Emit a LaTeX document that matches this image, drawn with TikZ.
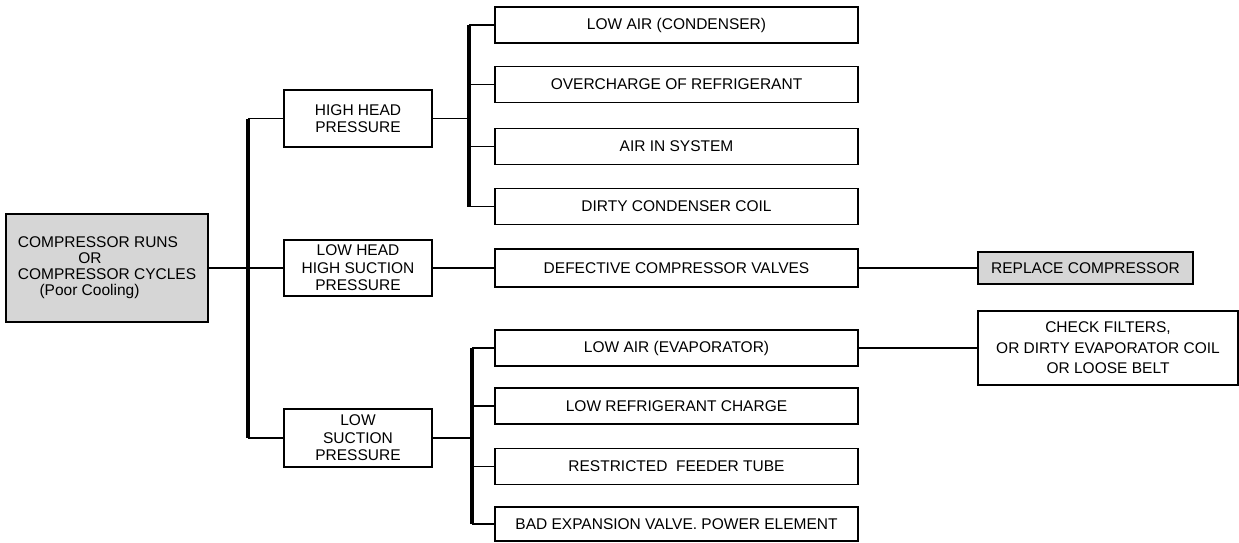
\documentclass[tikz,border=0pt]{standalone}
\usepackage{fontspec}
\setmainfont{Liberation Sans}

\begin{document}
\begin{tikzpicture}[x=1pt,y=-1pt,
  box/.style={draw,line width=1.4pt,rectangle,align=center,inner sep=2pt,
    font=\fontsize{15.5}{17.5}\selectfont},
  shaded/.style={box,fill=black!16},
  cause/.style={box,minimum width=363pt,minimum height=36pt},
  kind/.style={box,minimum width=148pt},
  link/.style={line width=1.6pt},
  trunk/.style={line width=3.2pt}]
\useasboundingbox (0,0) rectangle (1239,542);

\node[shaded,minimum width=202pt,minimum height=108pt,align=left,
  font=\fontsize{15.5}{16}\selectfont] (comp) at (107,268)
  {COMPRESSOR RUNS\\\hspace*{3.9em}OR\\COMPRESSOR CYCLES\\\hspace*{1.4em}(Poor Cooling)};

\node[kind,minimum height=57pt] (hh) at (358,118.5) {HIGH HEAD\\PRESSURE};
\node[kind,minimum height=56pt] (lh) at (358,268) {LOW HEAD\\HIGH SUCTION\\PRESSURE};
\node[kind,minimum height=58pt] (ls) at (358,438) {LOW\\SUCTION\\PRESSURE};

\node[cause] (lac) at (676.5,25) {LOW AIR (CONDENSER)};
\node[cause] (ovc) at (676.5,84.5) {OVERCHARGE OF REFRIGERANT};
\node[cause] (ais) at (676.5,146.5) {AIR IN SYSTEM};
\node[cause] (dcc) at (676.5,206.5) {DIRTY CONDENSER COIL};
\node[cause,minimum height=38pt] (dcv) at (676.5,268) {DEFECTIVE COMPRESSOR VALVES};
\node[cause] (lae) at (676.5,348) {LOW AIR (EVAPORATOR)};
\node[cause] (lrc) at (676.5,406) {LOW REFRIGERANT CHARGE};
\node[cause] (rft) at (676.5,466.5) {RESTRICTED\ \ FEEDER TUBE};
\node[cause,minimum height=34pt] (bev) at (676.5,524) {BAD EXPANSION VALVE. POWER ELEMENT};

\node[shaded,minimum width=215pt,minimum height=32pt] (rep) at (1085.5,268) {REPLACE COMPRESSOR};
\node[box,minimum width=260pt,minimum height=74pt] (chk) at (1108,348)
  {CHECK FILTERS,\\[3pt]OR DIRTY EVAPORATOR COIL\\[3pt]OR LOOSE BELT};

\coordinate (spine) at (248,0);
\coordinate (upfork) at (469,0);
\coordinate (lowfork) at (472,0);

\draw[link] (comp.east) -- (comp.east -| spine);
\draw[trunk] (hh.west -| spine) -- (ls.west -| spine);
\foreach \k in {hh,lh,ls} {\draw[link] (\k.west -| spine) -- (\k.west);}

\draw[link] (hh.east) -- (hh.east -| upfork);
\draw[trunk] (lac.west -| upfork) -- (dcc.west -| upfork);
\foreach \c in {lac,ovc,ais,dcc} {\draw[link] (\c.west -| upfork) -- (\c.west);}

\draw[link] (lh) -- (dcv);
\draw[link] (dcv) -- (rep);

\draw[link] (ls.east) -- (ls.east -| lowfork);
\draw[trunk] (lae.west -| lowfork) -- (bev.west -| lowfork);
\foreach \c in {lae,lrc,rft,bev} {\draw[link] (\c.west -| lowfork) -- (\c.west);}

\draw[link] (lae) -- (chk);
\end{tikzpicture}
\end{document}
